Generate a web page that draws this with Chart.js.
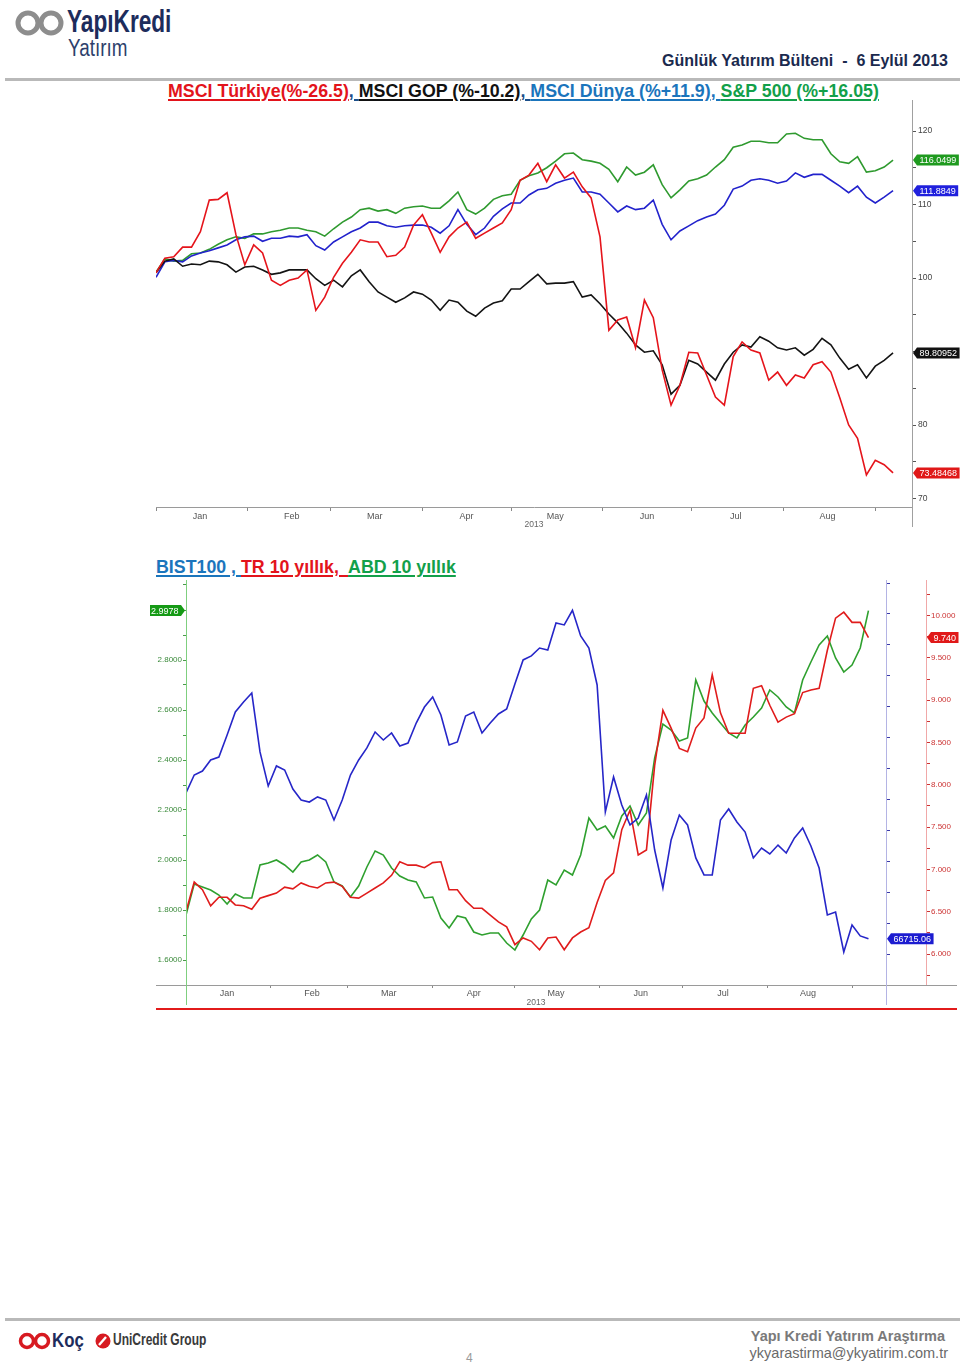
<!DOCTYPE html>
<html lang="tr">
<head>
<meta charset="utf-8">
<script src="https://cdn.jsdelivr.net/npm/chart.js@4.4.1/dist/chart.umd.min.js"></script>
<style>
  html, body { margin: 0; padding: 0; background: #fff; }
  body { width: 960px; height: 1365px; position: relative; overflow: hidden; font-family: "Liberation Sans", Arial, sans-serif; }
  .abs { position: absolute; white-space: pre; }
  .title { font-weight: bold; font-size: 17.8px; }
  .title span { text-decoration: underline; text-decoration-thickness: 2px; text-underline-offset: 2px; }
  .rule { position: absolute; background: #b9b9b9; }
</style>
</head>
<body>

<!-- header -->
<svg class="abs" style="left:14px;top:9px" width="54" height="28" viewBox="0 0 54 28">
  <circle cx="14" cy="14" r="10" fill="none" stroke="#8d8d8d" stroke-width="5"/>
  <circle cx="37" cy="14" r="10" fill="none" stroke="#8d8d8d" stroke-width="5"/>
</svg>
<div class="abs" style="left:67px;top:4px;font-size:31px;font-weight:bold;color:#1d2c5c;transform:scaleX(0.73);transform-origin:left top">YapıKredi</div>
<div class="abs" style="left:68px;top:35px;font-size:23px;color:#2e3f6c;transform:scaleX(0.82);transform-origin:left top">Yatırım</div>
<div class="abs" style="right:12px;top:52px;font-size:16px;font-weight:bold;color:#1b2a4e">Günlük Yatırım Bülteni  -  6 Eylül 2013</div>
<div class="rule" style="left:5px;top:78px;width:955px;height:3px"></div>

<div class="abs title" style="left:168px;top:81px"><span style="color:#e3131b">MSCI Türkiye(%-26.5)</span><span style="color:#1b4f8a">, </span><span style="color:#111">MSCI GOP (%-10.2)</span><span style="color:#1b4f8a">, </span><span style="color:#1b75bc">MSCI Dünya (%+11.9)</span><span style="color:#1b75bc">, </span><span style="color:#12a04a">S&amp;P 500 (%+16.05)</span></div>

<canvas id="c1" class="abs" style="left:150px;top:95px" width="810" height="440"></canvas>

<div class="abs title" style="left:156px;top:557px"><span style="color:#1b75bc">BIST100 , </span><span style="color:#e3131b">TR 10 yıllık,  </span><span style="color:#12a04a">ABD 10 yıllık</span></div>

<canvas id="c2" class="abs" style="left:150px;top:575px" width="810" height="440"></canvas>
<div class="abs" style="left:156px;top:1008px;width:801px;height:2px;background:#e21b1b"></div>

<!-- footer -->
<div class="rule" style="left:5px;top:1318px;width:955px;height:3px"></div>
<svg class="abs" style="left:18px;top:1332px" width="34" height="18" viewBox="0 0 34 18">
  <circle cx="9" cy="9" r="6.5" fill="none" stroke="#d71a21" stroke-width="3.5"/>
  <circle cx="24" cy="9" r="6.5" fill="none" stroke="#d71a21" stroke-width="3.5"/>
</svg>
<div class="abs" style="left:52px;top:1328px;font-size:21px;font-weight:bold;color:#1d2c5c;transform:scaleX(0.8);transform-origin:left top">Koç</div>
<svg class="abs" style="left:95px;top:1333px" width="16" height="16" viewBox="0 0 16 16">
  <circle cx="8" cy="8" r="7.5" fill="#d71a21"/>
  <path d="M4 12 L11 4" stroke="#fff" stroke-width="2.4"/>
</svg>
<div class="abs" style="left:113px;top:1331px;font-size:16px;font-weight:bold;color:#3a3a3a;transform:scaleX(0.75);transform-origin:left top">UniCredit Group</div>
<div class="abs" style="right:15px;top:1328px;font-size:14.5px;font-weight:bold;color:#7a7a7a">Yapı Kredi Yatırım Araştırma</div>
<div class="abs" style="right:12px;top:1345px;font-size:14.5px;color:#6a6a6a">ykyarastirma@ykyatirim.com.tr</div>
<div class="abs" style="left:466px;top:1351px;font-size:12px;color:#9a9a9a">4</div>

<script>
// sampling: one value every 3 calendar days from 1 Jan 2013 (day 0) to 6 Sep (day 249)
const STEP_DAYS = 3;
const monthStarts = [0, 31, 59, 90, 120, 151, 181, 212, 243];
const monthNames = ['Jan', 'Feb', 'Mar', 'Apr', 'May', 'Jun', 'Jul', 'Aug', ''];

// chart 1 - rebased to 100
const msciTurkey = [100.7,102.7,102.9,104.2,104.2,106.3,110.6,110.7,111.6,105.9,
  101.8,104.5,103.4,99.7,99.0,99.7,100.0,101.1,95.6,97.4,
  100.1,102.0,103.5,105.2,104.9,104.9,102.9,103.1,104.2,107.2,
  108.6,106.1,103.5,105.6,106.8,107.6,105.4,106.1,106.8,107.5,
  109.3,113.3,114.0,115.6,113.1,115.4,113.6,114.4,112.4,110.9,
  105.6,92.9,94.3,94.7,90.5,97.0,94.6,87.5,82.7,85.4,
  89.9,89.8,86.8,83.8,82.7,89.3,91.3,90.2,89.8,86.1,
  87.2,85.4,86.8,86.4,88.2,88.6,87.2,83.7,80.0,78.2,
  73.2,75.2,74.6,73.48];
const msciGop = [100.7,102.3,102.6,101.6,101.9,101.8,102.3,102.2,101.8,100.8,
  101.5,101.6,101.1,100.5,100.7,101.1,101.1,101.1,99.9,99.0,
  99.7,98.8,100.3,101.1,99.5,98.1,97.4,96.7,97.3,98.1,
  97.8,97.0,95.6,97.0,96.7,95.5,94.8,95.9,96.6,96.9,
  98.5,98.5,99.5,100.5,99.2,99.3,99.3,99.5,97.4,97.7,
  96.5,95.1,93.9,92.5,90.9,89.9,90.1,88.2,84.2,85.4,
  88.8,88.3,87.2,86.1,88.3,89.9,90.9,90.6,92.0,91.4,
  90.5,90.2,90.5,89.5,90.3,91.8,90.9,89.1,87.6,88.2,
  86.4,88.0,88.8,89.81];
const msciWorld = [100.1,102.2,102.4,102.2,103.0,103.4,103.7,104.1,104.5,105.2,
  105.6,105.7,105.0,105.4,105.4,105.7,105.6,105.9,104.4,103.8,
  104.9,105.6,106.3,106.8,107.6,107.6,107.1,106.9,107.1,107.2,
  107.2,106.9,106.1,107.1,109.3,107.3,105.9,106.8,108.4,109.4,
  110.2,110.2,111.3,112.0,112.2,112.9,113.3,113.6,111.7,111.7,
  111.4,110.2,109.0,109.8,109.3,109.5,110.6,107.3,105.2,106.4,
  107.1,107.8,108.3,108.7,109.9,112.1,112.5,113.3,113.5,113.3,
  112.9,113.2,114.3,113.7,114.1,114.1,113.3,112.5,111.6,112.5,
  111.0,110.2,111.0,111.88];
const sp500 = [100.8,102.6,102.3,102.4,103.3,103.4,103.9,104.6,105.2,105.6,
  105.4,106.0,106.0,106.3,106.5,106.8,106.8,106.5,106.3,105.7,
  106.7,107.6,108.3,109.3,109.5,109.1,109.3,108.8,109.5,109.7,
  109.8,109.5,109.5,110.5,111.7,109.3,108.7,109.5,110.7,111.2,
  111.4,113.3,113.9,114.3,115.0,115.9,116.9,117.0,116.1,115.9,
  115.6,114.8,113.1,115.1,114.0,114.4,115.4,112.7,110.9,112.0,
  113.2,113.5,114.0,115.1,116.1,117.8,118.1,118.6,118.6,118.4,
  118.4,119.6,119.7,119.0,118.8,118.8,116.9,115.8,115.6,116.5,
  114.4,114.6,115.1,116.05];
const tags1 = ['73.48468', '89.80952', '111.8849', '116.0499'];

// chart 2
const bist100 = [78470,79920,80240,81130,81370,83150,85000,85810,86530,81780,
  79030,80650,80320,78790,77900,77740,78150,77900,76290,77900,
  79920,81130,82100,83390,82740,83310,82260,82500,84110,85400,
  86210,84760,82340,82580,84680,85000,83310,84110,84840,85240,
  87260,89200,89520,90160,90000,92180,92020,93200,91130,90160,
  87180,76940,79760,77500,75890,76450,78310,73870,70810,74680,
  76690,75890,73230,71860,71860,76290,77180,76130,75320,73230,
  74030,73550,74270,73630,74840,75650,74190,72420,68630,68870,
  65650,67820,66940,66715.06];
const tr10y = [6.50,6.85,6.76,6.57,6.67,6.67,6.58,6.57,6.53,6.66,
  6.69,6.72,6.79,6.77,6.84,6.80,6.78,6.84,6.85,6.80,
  6.67,6.66,6.72,6.78,6.84,6.93,7.09,7.05,7.05,7.02,
  7.08,7.09,6.76,6.76,6.63,6.54,6.54,6.46,6.38,6.32,
  6.11,6.19,6.15,6.05,6.19,6.20,6.05,6.19,6.26,6.31,
  6.61,6.87,6.96,7.47,7.70,7.17,7.23,8.23,8.88,8.67,
  8.43,8.39,8.67,8.79,9.30,8.85,8.61,8.61,8.61,9.14,
  9.17,8.94,8.74,8.80,8.84,9.09,9.12,9.14,9.59,9.97,
  10.04,9.92,9.92,9.74];
const us10y = [1.780,1.904,1.892,1.880,1.860,1.824,1.864,1.848,1.848,1.980,
  1.988,2.000,1.980,1.952,1.992,2.000,2.020,1.992,1.912,1.896,
  1.852,1.896,1.972,2.036,2.020,1.968,1.936,1.920,1.912,1.848,
  1.852,1.768,1.728,1.776,1.768,1.712,1.700,1.708,1.708,1.668,
  1.640,1.700,1.764,1.800,1.920,1.900,1.960,1.940,2.020,2.168,
  2.120,2.136,2.088,2.176,2.216,2.140,2.188,2.408,2.544,2.520,
  2.476,2.488,2.720,2.636,2.588,2.548,2.508,2.488,2.540,2.572,
  2.608,2.680,2.652,2.612,2.588,2.720,2.792,2.860,2.896,2.808,
  2.752,2.780,2.848,2.9978];
const tags2 = { bist: '66715.06', tr: '9.740', us: '2.9978' };

const FONT = '"Liberation Sans", Arial, sans-serif';
Chart.defaults.font.family = FONT;

const toXY = arr => arr.map((v, i) => ({ x: i * STEP_DAYS, y: v }));
const line = (data, color, axis) => ({
  data: toXY(data), borderColor: color, borderWidth: 1.6, pointRadius: 0,
  tension: 0, fill: false, yAxisID: axis || 'y'
});

function drawTag(ctx, tipX, y, text, color, dir) {
  ctx.font = '9px ' + FONT;
  const w = ctx.measureText(text).width + 5, h = 11, n = 4;
  const x0 = dir > 0 ? tipX + n : tipX - n - w;
  const near = dir > 0 ? x0 : x0 + w, far = dir > 0 ? x0 + w : x0;
  ctx.fillStyle = color;
  ctx.beginPath();
  ctx.moveTo(tipX, y);
  ctx.lineTo(near, y - h / 2);
  ctx.lineTo(far, y - h / 2);
  ctx.lineTo(far, y + h / 2);
  ctx.lineTo(near, y + h / 2);
  ctx.closePath();
  ctx.fill();
  ctx.fillStyle = '#fff';
  ctx.textAlign = 'left';
  ctx.textBaseline = 'middle';
  ctx.fillText(text, x0 + 2.5, y + 0.5);
}

function seg(ctx, x1, y1, x2, y2, color) {
  ctx.strokeStyle = color; ctx.lineWidth = 1;
  ctx.beginPath(); ctx.moveTo(x1, y1); ctx.lineTo(x2, y2); ctx.stroke();
}

function fixSize(w, h) {
  return s => {
    if (w) s.width = w;
    if (h) s.height = h;
    s.paddingLeft = s.paddingRight = s.paddingTop = s.paddingBottom = 0;
  };
}

function monthAxis(offset, tick, max, height) {
  return {
    type: 'linear', min: 0, max: max,
    afterBuildTicks: s => { s.ticks = monthStarts.map(v => ({ value: v })); },
    afterFit: fixSize(0, height),
    ticks: {
      autoSkip: false, maxRotation: 0, padding: 0, labelOffset: offset,
      color: '#555', font: { size: 9 },
      callback: (v, i) => monthNames[i]
    },
    grid: { drawOnChartArea: false, tickLength: tick, color: '#888' },
    border: { color: '#9a9a9a' }
  };
}

// ---- chart 1 ----
new Chart(document.getElementById('c1'), {
  type: 'line',
  data: {
    datasets: [
      line(msciTurkey, '#e5141b'),
      line(msciGop, '#141414'),
      line(msciWorld, '#2222cc'),
      line(sp500, '#2f9a2f')
    ]
  },
  options: {
    responsive: false, animation: false, events: [],
    layout: { padding: { left: 6, top: 8, right: 0, bottom: 0 } },
    plugins: { legend: { display: false }, tooltip: { enabled: false } },
    scales: {
      x: monthAxis(44, 4, 255.4, 28),
      y: {
        position: 'right', min: 68.844, max: 123.81,
        afterFit: fixSize(48, 0),
        ticks: { stepSize: 5, includeBounds: false, padding: 2, color: '#444', font: { size: 8.5 },
          callback: v => (v % 10 === 0 ? String(v) : '') },
        grid: { drawOnChartArea: false, tickLength: 4, color: '#555' },
        border: { color: '#a0a0a0' }
      }
    }
  },
  plugins: [{
    id: 'decor1',
    afterDraw(chart) {
      const { ctx, chartArea: a, scales } = chart;
      ctx.save();
      seg(ctx, a.right + 0.5, 5, a.right + 0.5, 432, '#a0a0a0');
      ctx.fillStyle = '#666'; ctx.font = '8.5px ' + FONT;
      ctx.textAlign = 'center'; ctx.textBaseline = 'middle';
      ctx.fillText('2013', (a.left + a.right) / 2, a.bottom + 18);
      const ends = [msciTurkey, msciGop, msciWorld, sp500];
      const cols = ['#e01818', '#111111', '#2020dd', '#1f9a1f'];
      ends.forEach((d, i) => drawTag(ctx, a.right + 1, scales.y.getPixelForValue(d[d.length - 1]), tags1[i], cols[i], 1));
      ctx.restore();
    }
  }]
});

// ---- chart 2 ----
new Chart(document.getElementById('c2'), {
  type: 'line',
  data: {
    datasets: [
      line(bist100, '#2626c8', 'yB'),
      line(tr10y, '#e01c1c', 'yR'),
      line(us10y, '#2fa02f', 'yG')
    ]
  },
  options: {
    responsive: false, animation: false, events: [],
    layout: { padding: { left: 0, top: 8, right: 0, bottom: 0 } },
    plugins: { legend: { display: false }, tooltip: { enabled: false } },
    scales: {
      x: monthAxis(41, 3, 255.4, 30),
      yG: {
        position: 'left', min: 1.5, max: 3.108,
        afterFit: fixSize(36, 0),
        ticks: { stepSize: 0.1, includeBounds: false, padding: 1, color: '#3a8a3a', font: { size: 8 },
          callback: v => (Math.round(v * 10) % 2 === 0 && v > 1.55 ? v.toFixed(4) : '') },
        grid: { drawOnChartArea: false, tickLength: 3, color: '#4a9a4a' },
        border: { color: '#7fcf7f' }
      },
      yB: {
        position: 'right', min: 62984, max: 95403,
        afterFit: fixSize(40, 0),
        ticks: { stepSize: 2500, includeBounds: false, padding: 2, color: '#3a3aa8', font: { size: 8 },
          callback: v => (v % 5000 === 0 ? String(v) : '') },
        grid: { drawOnChartArea: false, tickLength: 4, color: '#3a3aa8' },
        border: { color: '#b4b4e4' }
      },
      yR: {
        position: 'right', min: 5.6336, max: 10.385,
        afterFit: fixSize(34, 0),
        ticks: { stepSize: 0.25, includeBounds: false, padding: 1, color: '#cc3333', font: { size: 8 },
          callback: v => (Math.round(v * 100) % 50 === 0 ? v.toFixed(3) : '') },
        grid: { drawOnChartArea: false, tickLength: 4, color: '#cc3333' },
        border: { color: '#f0a8a8' }
      }
    }
  },
  plugins: [{
    id: 'decor2',
    afterDraw(chart) {
      const { ctx, chartArea: a, scales } = chart;
      ctx.save();
      seg(ctx, 6, a.bottom + 0.5, 807, a.bottom + 0.5, '#9a9a9a');
      seg(ctx, a.left + 0.5, 5, a.left + 0.5, 430, '#7fcf7f');
      seg(ctx, a.right + 0.5, 5, a.right + 0.5, 430, '#b4b4e4');
      seg(ctx, scales.yR.left + 0.5, 5, scales.yR.left + 0.5, 410, '#f0a8a8');
      ctx.fillStyle = '#666'; ctx.font = '8.5px ' + FONT;
      ctx.textAlign = 'center'; ctx.textBaseline = 'middle';
      ctx.fillText('2013', (a.left + a.right) / 2, a.bottom + 18);
      drawTag(ctx, a.left - 1, scales.yG.getPixelForValue(us10y[us10y.length - 1]), tags2.us, '#159a15', -1);
      drawTag(ctx, a.right + 1, scales.yB.getPixelForValue(bist100[bist100.length - 1]), tags2.bist, '#1c1cd0', 1);
      drawTag(ctx, scales.yR.left + 1, scales.yR.getPixelForValue(tr10y[tr10y.length - 1]), tags2.tr, '#e01818', 1);
      ctx.restore();
    }
  }]
});
</script>
</body>
</html>
